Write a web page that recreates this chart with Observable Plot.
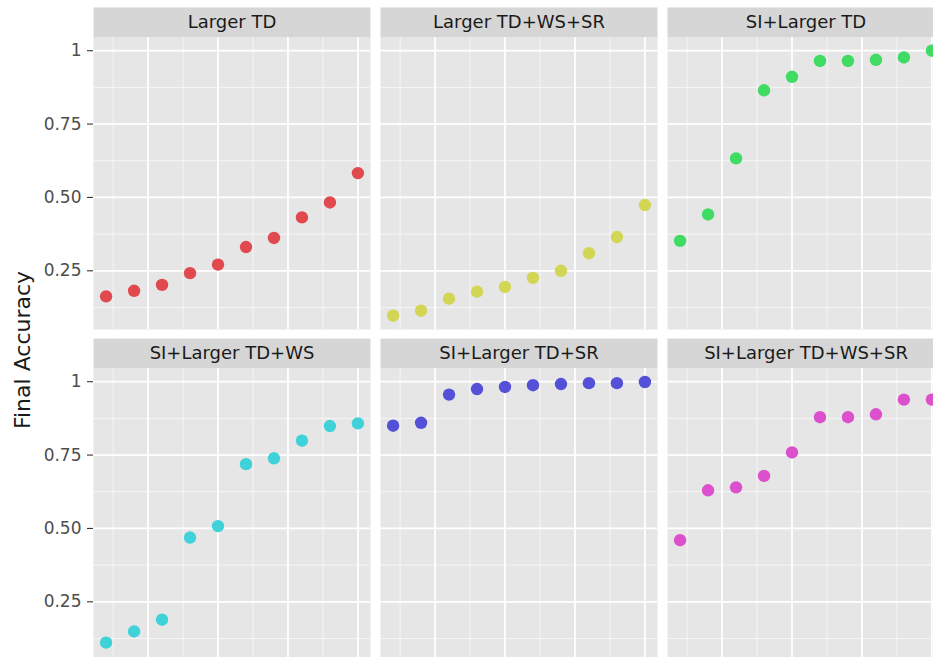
<!DOCTYPE html>
<html>
<head>
<meta charset="utf-8">
<script src="https://cdn.jsdelivr.net/npm/d3@7"></script>
<script src="https://cdn.jsdelivr.net/npm/@observablehq/plot@0.6"></script>
<style>
  html, body { margin: 0; padding: 0; background: #ffffff; }
  #wrap { position: relative; width: 933px; height: 657px; overflow: hidden; background: #fff; }
  #ytitle {
    position: absolute; left: 22px; top: 350px;
    transform: translate(-50%, -50%) rotate(-90deg);
    font-family: "DejaVu Sans", sans-serif; font-size: 22px; color: #1a1a1a;
    white-space: nowrap;
  }
</style>
</head>
<body>
<div id="wrap">
  <div id="chart"></div>
  <div id="ytitle">Final Accuracy</div>
</div>
<script>
// ---- data ----
const categories = [
  "Larger TD",
  "Larger TD+WS+SR",
  "SI+Larger TD",
  "SI+Larger TD+WS",
  "SI+Larger TD+SR",
  "SI+Larger TD+WS+SR"
];
const runs = [1, 2, 3, 4, 5, 6, 7, 8, 9, 10];
const largerTD        = [0.163, 0.182, 0.202, 0.242, 0.271, 0.331, 0.362, 0.432, 0.483, 0.583];
const largerTDWSSR    = [0.097, 0.114, 0.155, 0.179, 0.195, 0.226, 0.250, 0.310, 0.365, 0.474];
const siLargerTD      = [0.352, 0.442, 0.633, 0.865, 0.911, 0.965, 0.965, 0.969, 0.977, 1.000];
const siLargerTDWS    = [0.111, 0.149, 0.189, 0.469, 0.508, 0.719, 0.739, 0.799, 0.849, 0.858];
const siLargerTDSR    = [0.850, 0.860, 0.956, 0.975, 0.982, 0.988, 0.992, 0.995, 0.995, 0.999];
const siLargerTDWSSR  = [0.460, 0.630, 0.640, 0.679, 0.759, 0.879, 0.879, 0.889, 0.939, 0.939];
const series = [largerTD, largerTDWSSR, siLargerTD, siLargerTDWS, siLargerTDSR, siLargerTDWSSR];
const colors = ["#e04a4f", "#d3d654", "#3fdb63", "#3fd2d9", "#5451d8", "#dc50cd"];

const yTicks = [0.25, 0.5, 0.75, 1];
const yTickLabels = ["0.25", "0.50", "0.75", "1"];
const yMinor = [0.125, 0.375, 0.625, 0.875];
const xMajor = [2.5, 5, 7.5, 10];
const xMinor = [1.25, 3.75, 6.25, 8.75];

// ---- build table ----
const rows = [];
categories.forEach((c, i) => {
  series[i].forEach((v, j) => {
    rows.push({model: c, run: runs[j], acc: v, col: i % 3, row: Math.floor(i / 3)});
  });
});
const panels = categories.map((c, i) => ({model: c, col: i % 3, row: Math.floor(i / 3)}));

const plot = Plot.plot({
  width: 944,
  height: 660,
  marginTop: 37,
  marginLeft: 93,
  marginRight: 0,
  marginBottom: 0,
  style: {fontFamily: "DejaVu Sans, sans-serif", fontSize: "17px", background: "#ffffff", maxWidth: "none", overflow: "visible"},
  fx: {domain: [0, 1, 2], paddingInner: 10 / 287, paddingOuter: 0, axis: null},
  fy: {domain: [0, 1], paddingInner: 39 / 331, paddingOuter: 0, axis: null},
  x: {domain: [0.55, 10.45], axis: null},
  y: {domain: [0.05, 1.045], axis: null},
  color: {domain: categories, range: colors},
  marks: [
    // panel backgrounds
    Plot.frame({fill: "#e6e6e6", stroke: null}),
    // strip backgrounds
    Plot.frame({fill: "#d6d6d6", stroke: null, insetTop: -30, insetBottom: 292}),
    // minor grid
    Plot.ruleY(yMinor, {stroke: "#f7f7f7", strokeWidth: 0.9}),
    Plot.ruleX(xMinor, {stroke: "#f7f7f7", strokeWidth: 0.9}),
    // major grid
    Plot.ruleY(yTicks, {stroke: "#ffffff", strokeWidth: 1.8}),
    Plot.ruleX(xMajor, {stroke: "#ffffff", strokeWidth: 1.8}),
    // y axis
    Plot.axisY(yTicks, {
      tickSize: 6, tickPadding: 6, stroke: "#333333", strokeWidth: 1.1,
      fill: "#4d4d4d", fontSize: 17, label: null,
      tickFormat: (d) => yTickLabels[yTicks.indexOf(d)]
    }),
    // strip labels
    Plot.text(panels, {
      fx: "col", fy: "row", text: "model",
      frameAnchor: "top", lineAnchor: "middle", dy: -15,
      fill: "#1a1a1a", fontSize: 18
    }),
    // points
    Plot.dot(rows, {
      fx: "col", fy: "row", x: "run", y: "acc",
      fill: "model", r: 6.2, stroke: null
    })
  ]
});
document.getElementById("chart").appendChild(plot);
</script>
</body>
</html>
